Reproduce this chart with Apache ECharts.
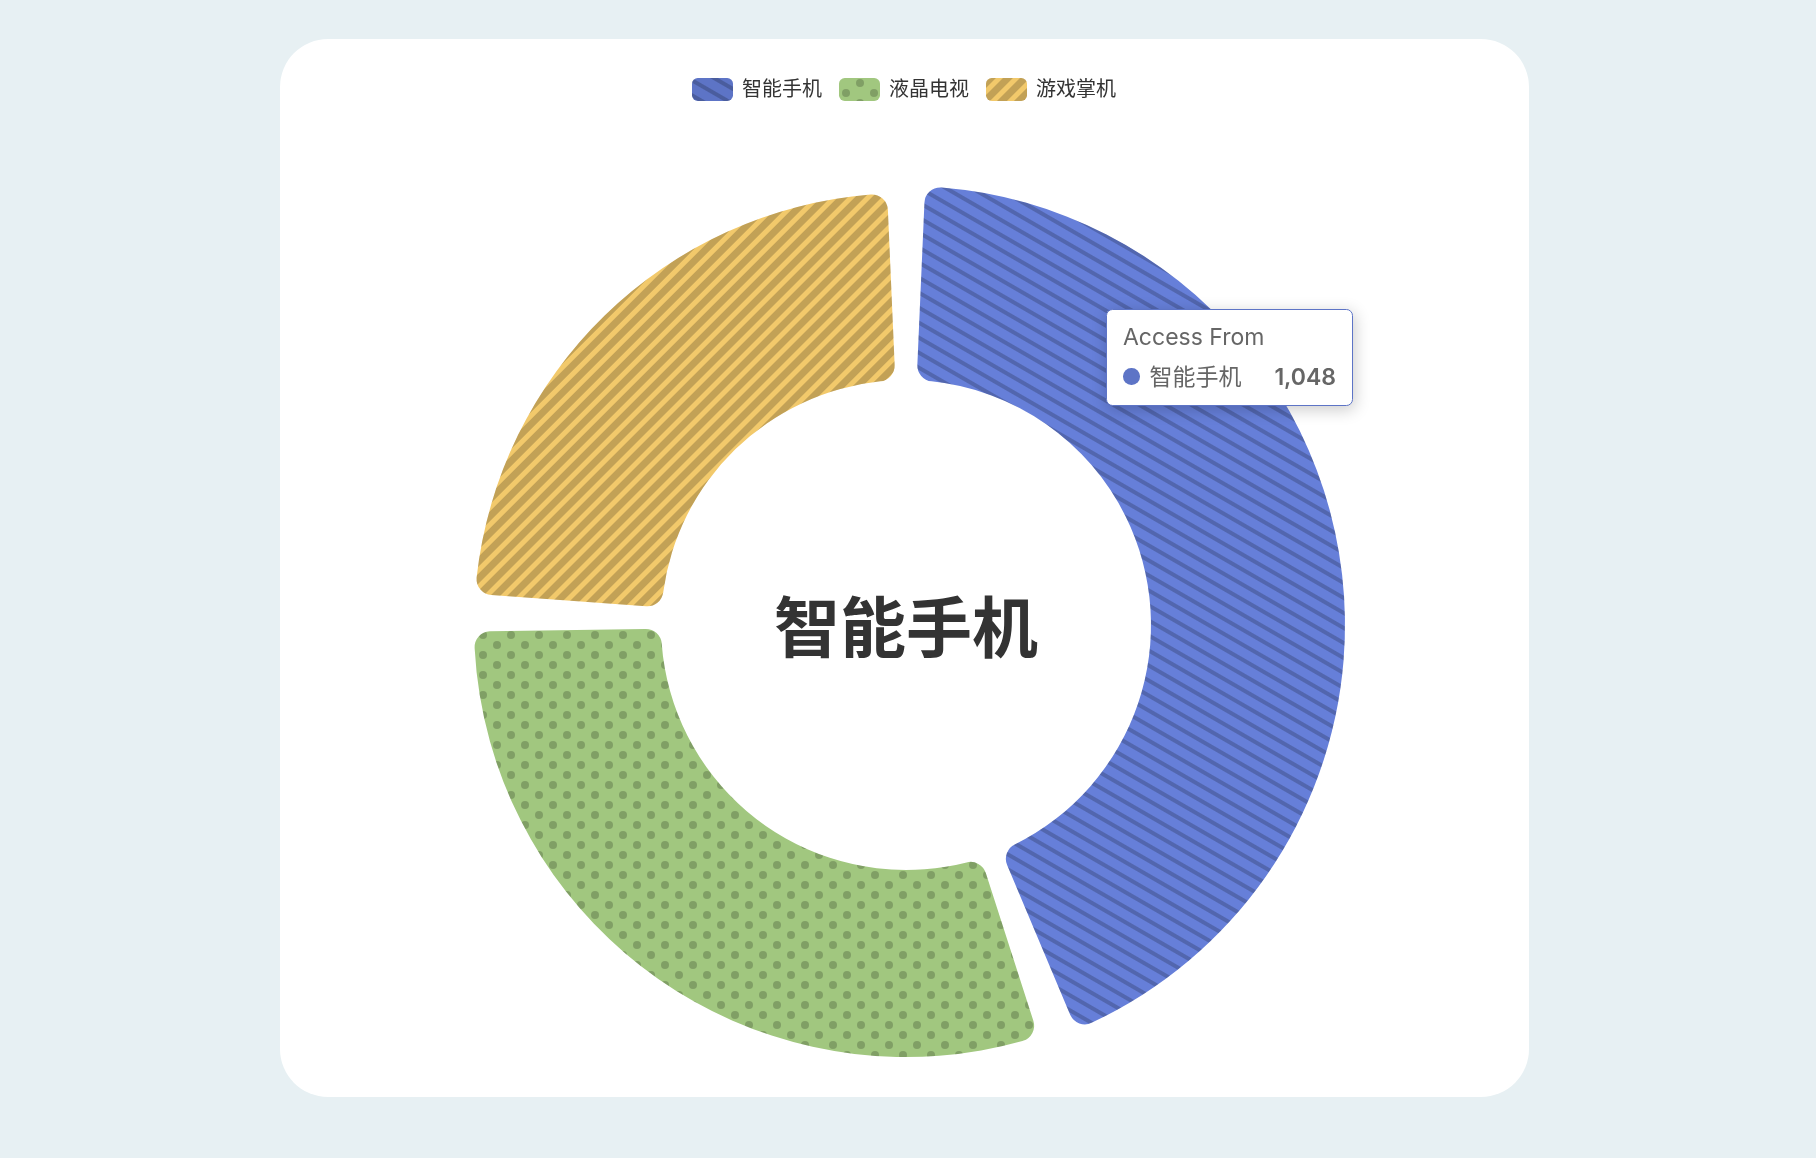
<!DOCTYPE html>
<html>
<head>
<meta charset="utf-8">
<script src="https://cdn.jsdelivr.net/npm/echarts@6/dist/echarts.min.js"></script>
<style>
  html, body { margin: 0; padding: 0; width: 1816px; height: 1158px; background: #e7f0f3; overflow: hidden; }
  #card { position: absolute; left: 280px; top: 39px; width: 1249px; height: 1058px; background: #ffffff; border-radius: 48px; }
  #chart { position: absolute; left: 0; top: 0; width: 1816px; height: 1158px; }
</style>
</head>
<body>
<div id="card"></div>
<div id="chart"></div>
<script>
// ---- data ----
const seriesName = 'Access From';
const categories = ['智能手机', '液晶电视', '游戏掌机'];
const values = [1048, 735, 580];
const colors = ['#5d74c6', '#a1c77f', '#f2c96b'];

// ---- styles (scaled) ----
const K = 1.65;
const decalColor = 'rgba(0, 0, 0, 0.2)';
const decals = [
  { color: decalColor, dashArrayX: [1, 0], dashArrayY: [2 * K, 5 * K], symbolSize: 1, rotation: Math.PI / 6 },
  { color: decalColor, symbol: 'circle', dashArrayX: [[8 * K, 8 * K], [0, 8 * K, 8 * K, 0]], dashArrayY: [6 * K, 0], symbolSize: 0.8 },
  { color: decalColor, dashArrayX: [1, 0], dashArrayY: [4 * K, 3 * K], rotation: -Math.PI / 4 }
];
const fontFamily = "Inter, 'Noto Sans CJK SC', sans-serif";

const pieData = categories.map((name, i) => ({
  name: name,
  value: values[i],
  itemStyle: { color: colors[i], decal: decals[i] }
}));

function fmt(n) { return n.toString().replace(/\B(?=(\d{3})+(?!\d))/g, ','); }

const chart = echarts.init(document.getElementById('chart'));
chart.setOption({
  animation: false,
  backgroundColor: 'transparent',
  color: colors,
  tooltip: {
    trigger: 'item',
    alwaysShowContent: true,
    transitionDuration: 0,
    position: [1106, 309],
    backgroundColor: '#fff',
    borderColor: colors[0],
    borderWidth: 1,
    padding: 16,
    textStyle: { color: '#666', fontSize: 23, fontFamily: fontFamily },
    extraCssText: 'box-shadow: rgba(0,0,0,0.2) 1.6px 3.3px 16px; border-radius: 6.6px;',
    formatter: function (p) {
      return '<div style="line-height:1;font-family:' + fontFamily.replace(/"/g, "'") + '">' +
        '<div style="font-size:23px;color:#666;font-weight:400;line-height:1;">' + p.seriesName + '</div>' +
        '<div style="margin:16.5px 0 0;line-height:1;">' +
          '<span style="display:inline-block;margin-right:6.6px;border-radius:50%;width:16.5px;height:16.5px;background-color:' + p.color + ';"></span>' +
          '<span style="font-size:23px;color:#666;font-weight:400;margin-left:3.3px">' + p.name + '</span>' +
          '<span style="float:right;margin-left:33px;font-size:23px;color:#666;font-weight:600">' + fmt(p.value) + '</span>' +
          '<div style="clear:both"></div>' +
        '</div></div>';
    }
  },
  legend: {
    top: 78,
    left: 692,
    padding: 0,
    itemWidth: 41,
    itemHeight: 23,
    itemGap: 17,
    textStyle: { fontSize: 20, color: '#333', fontFamily: fontFamily, padding: [0, 0, 0, 4] }
  },
  series: [{
    name: seriesName,
    type: 'pie',
    center: [906, 625],
    radius: [245, 432],
    startAngle: 90,
    padAngle: 5,
    avoidLabelOverlap: false,
    itemStyle: { borderRadius: 16 },
    label: { show: false, position: 'center' },
    labelLine: { show: false },
    emphasis: {
      scale: true,
      scaleSize: 7,
      label: { show: true, fontSize: 66, fontWeight: 'bold', color: '#333', fontFamily: fontFamily, offset: [0, 7] }
    },
    data: pieData
  }]
});

chart.dispatchAction({ type: 'highlight', seriesIndex: 0, dataIndex: 0 });
chart.dispatchAction({ type: 'showTip', seriesIndex: 0, dataIndex: 0 });
</script>
</body>
</html>
